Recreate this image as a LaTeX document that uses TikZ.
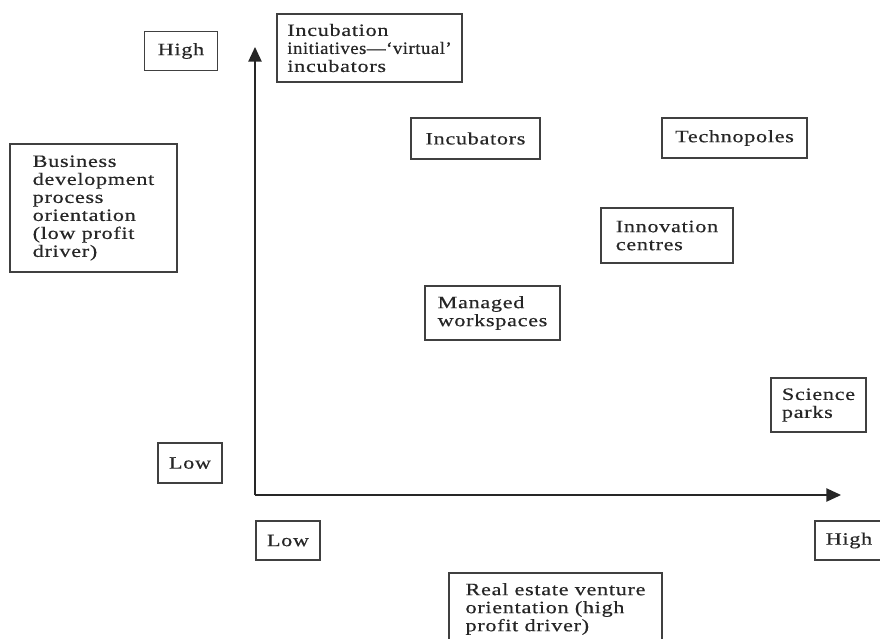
\documentclass[tikz,border=0pt]{standalone}
\usepackage{fontspec}
\setmainfont{Liberation Serif}[FakeStretch=1.28,LetterSpace=4,FakeBold=0.5]
\usetikzlibrary{arrows.meta}

\begin{document}
\begin{tikzpicture}[x=0.75pt,y=-0.75pt,
        lbl/.style={draw=black!75,line width=0.9pt,align=left,inner sep=0pt,
            font=\fontsize{13}{13.5}\selectfont,text=black!85},
        sz/.style 2 args={minimum width=#1*0.75pt,minimum height=#2*0.75pt},
        axis/.style={draw=black!85,line width=1pt,-{Triangle[length=11pt,width=10pt]}}]
        \useasboundingbox (0,0) rectangle (880,638);
        \node[lbl,sz={73}{39}] (yhigh) at (181,51) {High};
        \node[lbl,sz={185}{68}] (virtual) at (369.5,48) {Incubation\\{\addfontfeatures{FakeStretch=1.08,FakeBold=0.6,LetterSpace=3}initiatives---`virtual'}\\incubators};
        \node[lbl,sz={167}{128}] (busdev) at (93.5,208) {Business\\development\\process\\orientation\\(low profit\\driver)};
        \node[lbl,sz={129}{41}] (incubators) at (475.5,138.5) {Incubators};
        \node[lbl,sz={145}{40}] (technopoles) at (734.5,138) {Technopoles};
        \node[lbl,sz={132}{55}] (innovation) at (667,235.5) {Innovation\\centres};
        \node[lbl,sz={135}{54}] (managed) at (492.5,313) {Managed\\workspaces};
        \node[lbl,sz={95}{54}] (science) at (818.5,405) {Science\\parks};
        \node[lbl,sz={64}{40}] (ylow) at (190,463) {Low};
        \node[lbl,sz={64}{39}] (xlow) at (288,540.5) {Low};
        \node[lbl,sz={68}{39}] (xhigh) at (849,540.5) {High};
        \node[lbl,sz={213}{72}] (realestate) at (555.5,609) {Real estate venture\\orientation (high\\profit driver)};
        \coordinate (origin) at (255,495);
        \coordinate (ytop) at (255,47);
        \coordinate (xend) at (841,495);
        \draw[axis] (origin) -- (ytop);
        \draw[axis] (origin) -- (xend);
        \end{tikzpicture}
\end{document}
